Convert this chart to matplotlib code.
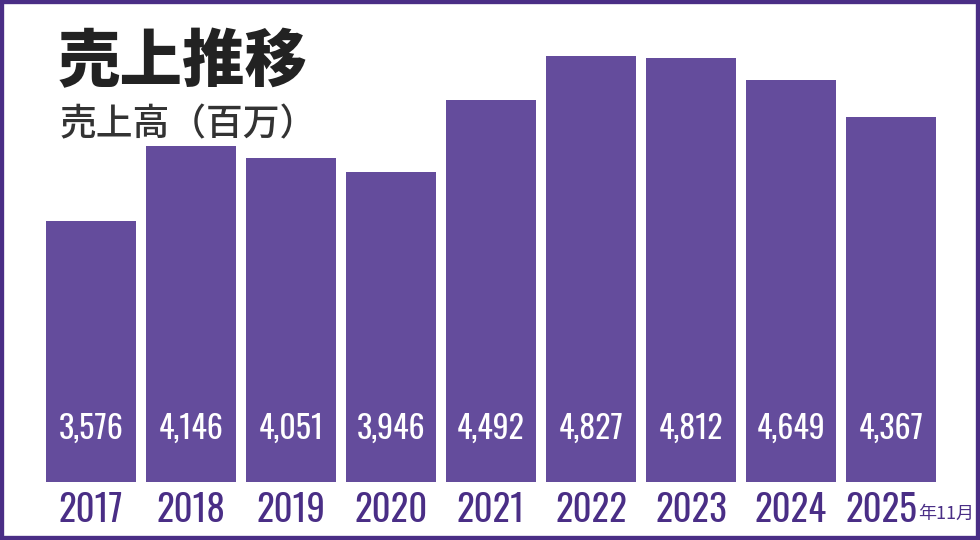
import matplotlib
matplotlib.use("Agg")
import matplotlib.pyplot as plt
from matplotlib.patches import Rectangle
from matplotlib import font_manager as fm
import numpy as np

# data
years = ["2017", "2018", "2019", "2020", "2021", "2022", "2023", "2024", "2025"]
sales = [3576, 4146, 4051, 3946, 4492, 4827, 4812, 4649, 4367]
value_labels = ["3,576", "4,146", "4,051", "3,946", "4,492", "4,827", "4,812", "4,649", "4,367"]
title = "売上推移"
subtitle = "売上高（百万）"
last_note = "年11月"

bar_color = "#644C9C"
dark_purple = "#4A2E86"
base = 1600

plt.rcParams["font.family"] = ["Noto Sans CJK JP", "DejaVu Sans"]

# pick a condensed face for the numbers if one is around
installed = {f.name for f in fm.fontManager.ttflist}
narrow = [n for n in ["Oswald", "Roboto Condensed", "Liberation Sans Narrow", "Open Sans Condensed"]
          if n in installed] + ["DejaVu Sans"]

fig = plt.figure(figsize=(9.8, 5.4), dpi=100)
fig.patch.set_facecolor("white")

# axes area: bar baseline at 482 px from top
ax = fig.add_axes([0, 58 / 540, 1, 482 / 540])
x = np.arange(len(years))
vals = np.array(sales)
ax.bar(x, vals - base, bottom=base, width=0.9, color=bar_color, linewidth=0)
ax.set_xlim(-0.91, 8.89)
ax.set_ylim(base, base + 482 / 0.132)
ax.axis("off")

for xi, lab in zip(x, value_labels):
    ax.text(xi, base + 53 / 0.132, lab, ha="center", va="center", color="white",
            fontsize=23, fontweight="light", family=narrow)
for i, (xi, yr) in enumerate(zip(x, years)):
    # last year label is nudged left to leave room for the month note
    shift = -0.1 if i == len(years) - 1 else 0
    ax.text(xi + shift, base - 28 / 0.132, yr, ha="center", va="center", color=dark_purple,
            fontsize=26.5, family=narrow, clip_on=False)
ax.text(x[-1] + 0.27, base - 32 / 0.132, last_note, ha="left", va="center",
        color=dark_purple, fontsize=13, clip_on=False)

# title block
fig.text(58 / 980, 1 - 62 / 540, title, ha="left", va="center", fontsize=45,
         fontweight="heavy", color="#222222")
fig.text(60 / 980, 1 - 124 / 540, subtitle, ha="left", va="center", fontsize=26.5,
         fontweight="medium", color="#333333")

# frame around whole picture
fig.patches.append(Rectangle((0, 0), 1, 1, transform=fig.transFigure, fill=False,
                             edgecolor=dark_purple, linewidth=6, zorder=10))

fig.savefig("out.png", dpi=100)
